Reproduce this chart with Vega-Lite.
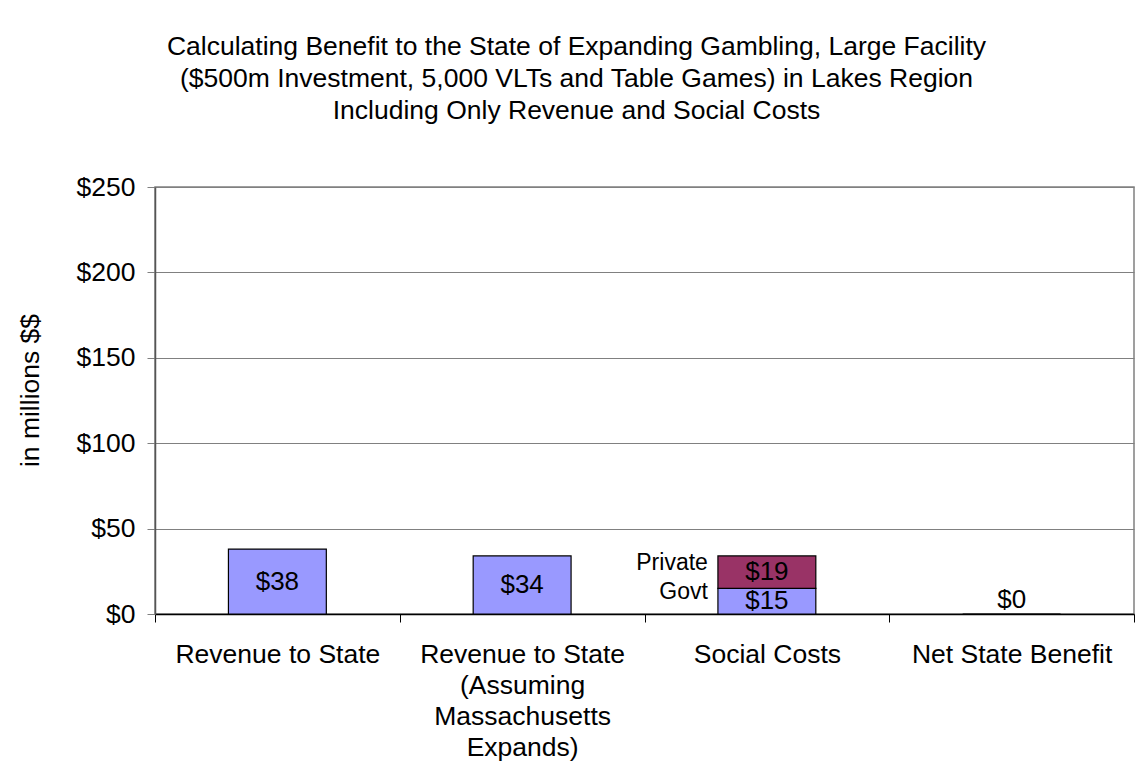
{
  "$schema": "https://vega.github.io/schema/vega-lite/v6.json",
  "width": 979,
  "height": 427,
  "autosize": "none",
  "padding": {"left": 155, "top": 187, "right": 3, "bottom": 166},
  "background": "white",
  "title": {
    "text": ["Calculating Benefit to the State of Expanding Gambling, Large Facility", "($500m Investment, 5,000 VLTs and Table Games) in Lakes Region", "Including Only Revenue and Social Costs"],
    "font": "Liberation Sans",
    "fontSize": 26.5,
    "fontWeight": "normal",
    "lineHeight": 32,
    "color": "black",
    "anchor": "middle",
    "dx": -68,
    "offset": 50
  },
  "data": {
    "values": [
      {"category": "Revenue to State", "series": "Revenue", "value": 38},
      {"category": "Revenue to State (Assuming Massachusetts Expands)", "series": "Revenue", "value": 34},
      {"category": "Social Costs", "series": "Govt", "value": 15},
      {"category": "Social Costs", "series": "Private", "value": 19},
      {"category": "Net State Benefit", "series": "Net", "value": 0}
    ]
  },
  "transform": [
    {"stack": "value", "groupby": ["category"], "sort": [{"field": "series", "order": "ascending"}], "as": ["v0", "v1"]},
    {"calculate": "(datum.v0 + datum.v1) / 2", "as": "mid"}
  ],
  "encoding": {
    "x": {
      "field": "category",
      "type": "nominal",
      "sort": ["Revenue to State", "Revenue to State (Assuming Massachusetts Expands)", "Social Costs", "Net State Benefit"],
      "scale": {"paddingInner": 0, "paddingOuter": 0},
      "axis": {
        "title": null,
        "labelAngle": 0,
        "labelLimit": 0,
        "tickBand": "extent",
        "labelExpr": "datum.label == 'Revenue to State (Assuming Massachusetts Expands)' ? ['Revenue to State', '(Assuming', 'Massachusetts', 'Expands)'] : datum.label",
        "labelFont": "Liberation Sans",
        "labelFontSize": 26.5,
        "labelColor": "black",
        "labelLineHeight": 31,
        "labelPadding": 19,
        "domainColor": "black",
        "domainWidth": 1.5,
        "tickColor": "black",
        "tickSize": 8,
        "tickWidth": 1,
        "grid": false
      }
    }
  },
  "layer": [
    {
      "mark": {"type": "bar", "width": {"band": 0.4}, "stroke": "black", "strokeWidth": 1.2},
      "encoding": {
        "y": {
          "field": "v1",
          "type": "quantitative",
          "scale": {"domain": [0, 250], "nice": false},
          "axis": {
            "title": "in millions $$",
            "titleFont": "Liberation Sans",
            "titleFontSize": 26.5,
            "titleFontWeight": "normal",
            "titleColor": "black",
            "titlePadding": 32,
            "titleY": 203,
            "values": [0, 50, 100, 150, 200, 250],
            "labelExpr": "'$' + datum.value",
            "labelFont": "Liberation Sans",
            "labelFontSize": 26.5,
            "labelColor": "black",
            "labelPadding": 12,
            "tickSize": 8,
            "tickColor": "#808080",
            "domainColor": "#555555",
            "domainWidth": 1.5,
            "gridColor": "#808080",
            "gridWidth": 1
          }
        },
        "y2": {"field": "v0"},
        "color": {
          "field": "series",
          "type": "nominal",
          "scale": {"domain": ["Revenue", "Govt", "Private", "Net"], "range": ["#9999FF", "#9999FF", "#993366", "#9999FF"]},
          "legend": null
        }
      }
    },
    {
      "transform": [{"filter": "datum.value > 0"}],
      "mark": {"type": "text", "font": "Liberation Sans", "fontSize": 26, "color": "black", "baseline": "middle", "align": "center"},
      "encoding": {
        "y": {"field": "mid", "type": "quantitative"},
        "text": {"field": "value", "type": "quantitative", "format": "$.0f"}
      }
    },
    {
      "transform": [{"filter": "datum.value == 0"}],
      "mark": {"type": "text", "font": "Liberation Sans", "fontSize": 26, "color": "black", "baseline": "bottom", "align": "center", "dy": -1},
      "encoding": {
        "y": {"field": "mid", "type": "quantitative"},
        "text": {"field": "value", "type": "quantitative", "format": "$.0f"}
      }
    },
    {
      "transform": [{"filter": "datum.series == 'Govt' || datum.series == 'Private'"}],
      "mark": {"type": "text", "font": "Liberation Sans", "fontSize": 23, "color": "black", "baseline": "middle", "align": "right", "dx": -59, "dy": -9},
      "encoding": {
        "y": {"field": "mid", "type": "quantitative"},
        "text": {"field": "series", "type": "nominal"}
      }
    }
  ],
  "config": {
    "view": {"stroke": "#808080", "strokeWidth": 1.5}
  }
}
